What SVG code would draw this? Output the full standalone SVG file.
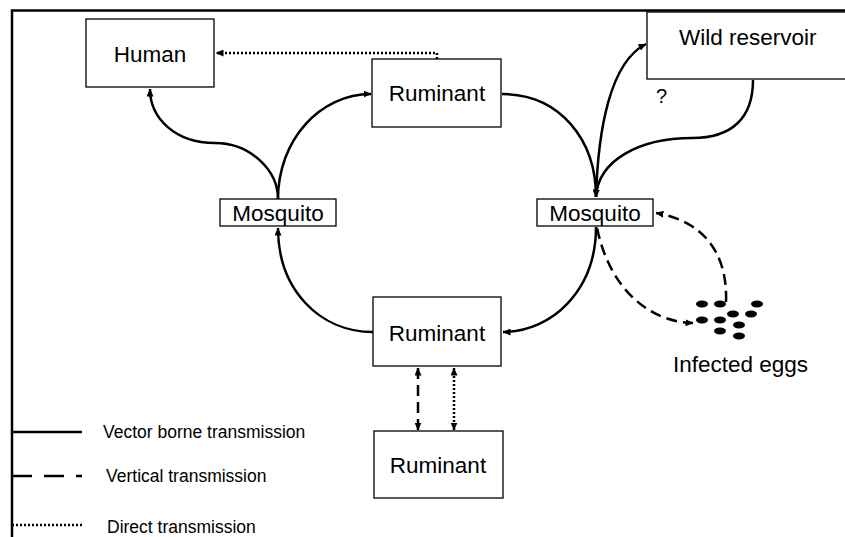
<svg xmlns="http://www.w3.org/2000/svg" width="845" height="537" viewBox="0 0 845 537">
<style>
.box{fill:#fff;stroke:#000;stroke-width:1.3}
.lbl{font-family:"Liberation Sans",Arial,sans-serif;font-size:22.5px;fill:#000}
.leg{font-family:"Liberation Sans",Arial,sans-serif;font-size:17.5px;fill:#000}
.c{fill:none;stroke:#000;stroke-width:2.5}
.dash{stroke-dasharray:11 6}
.dot{stroke-dasharray:2 2;stroke-width:2.5}
</style>
<defs>
<marker id="ah" viewBox="0 0 8 7" refX="7.5" refY="3.5" markerWidth="8" markerHeight="7" markerUnits="userSpaceOnUse" orient="auto-start-reverse">
<path d="M0,0 L8,3.5 L0,7 z" fill="#000"/>
</marker>
</defs>
<rect width="845" height="537" fill="#fff"/>
<g id="frame">
<path d="M12,537 L12,10.5 L845,10.5" fill="none" stroke="#000" stroke-width="2.5"/>
</g>
<g id="connectors">
<path class="c dot" d="M437,59 L437,53 L216,53" marker-end="url(#ah)"/>
<path class="c" d="M278,199 C278,170 250,143 215,143 C175,143 150,118 150,89" marker-end="url(#ah)"/>
<path class="c" d="M278,199 C278,140 320,94 371,94" marker-end="url(#ah)"/>
<path class="c" d="M502,94 C560,94 596,140 596,197" marker-end="url(#ah)"/>
<path class="c" d="M596,197 C598,130 610,62 646,44" marker-end="url(#ah)"/>
<path class="c" d="M753,80 C753,118 732,138 692,138 C640,138 598,160 596,197" marker-end="url(#ah)"/>
<path class="c" d="M596,227 C596,290 552,332 503,332" marker-end="url(#ah)"/>
<path class="c" d="M373,332 C320,332 278,290 278,228" marker-end="url(#ah)"/>
<path class="c dash" d="M597,228 C610,290 650,322 693,323" marker-end="url(#ah)"/>
<path class="c dash" d="M726,302 C728,250 700,220 656,213" marker-end="url(#ah)"/>
<path class="c dash" d="M418,368 L418,430" marker-start="url(#ah)" marker-end="url(#ah)"/>
<path class="c dot" d="M454,368 L454,430" marker-start="url(#ah)" marker-end="url(#ah)"/>
</g>
<g id="human">
<rect class="box" x="86" y="19" width="128" height="68"/>
<text class="lbl" x="150" y="62" text-anchor="middle">Human</text>
</g>
<g id="ruminant-top">
<rect class="box" x="372" y="59" width="129" height="68"/>
<text class="lbl" x="437" y="101" text-anchor="middle">Ruminant</text>
</g>
<g id="wild-reservoir">
<rect class="box" x="647" y="12" width="210" height="67"/>
<text class="lbl" x="679" y="45">Wild reservoir</text>
</g>
<g id="question">
<text class="lbl" x="656" y="103" style="font-size:20px">?</text>
</g>
<g id="mosquito-left">
<rect class="box" x="220" y="199" width="116" height="27"/>
<text class="lbl" x="278" y="221" text-anchor="middle">Mosquito</text>
</g>
<g id="mosquito-right">
<rect class="box" x="537" y="199" width="116" height="27"/>
<text class="lbl" x="595" y="221" text-anchor="middle">Mosquito</text>
</g>
<g id="ruminant-middle">
<rect class="box" x="373" y="297" width="128" height="69"/>
<text class="lbl" x="437" y="341" text-anchor="middle">Ruminant</text>
</g>
<g id="ruminant-bottom">
<rect class="box" x="374" y="431" width="129" height="67"/>
<text class="lbl" x="438" y="473" text-anchor="middle">Ruminant</text>
</g>
<g id="infected-eggs">
<g fill="#000">
<ellipse cx="702" cy="304" rx="6" ry="3.4"/>
<ellipse cx="720" cy="304" rx="6" ry="3.4"/>
<ellipse cx="757" cy="304" rx="6" ry="3.4"/>
<ellipse cx="702" cy="320" rx="6" ry="3.4"/>
<ellipse cx="720" cy="320" rx="6" ry="3.4"/>
<ellipse cx="733" cy="314" rx="6" ry="3.4"/>
<ellipse cx="751" cy="314" rx="6" ry="3.4"/>
<ellipse cx="739" cy="325" rx="6" ry="3.4"/>
<ellipse cx="720" cy="331" rx="6" ry="3.4"/>
<ellipse cx="739" cy="336" rx="6" ry="3.4"/>
</g>
<text class="lbl" x="673" y="372">Infected eggs</text>
</g>
<g id="legend">
<line x1="12" y1="432" x2="82" y2="432" stroke="#000" stroke-width="2.5"/>
<text class="leg" x="103" y="438">Vector borne transmission</text>
<line x1="12" y1="476" x2="82" y2="476" stroke="#000" stroke-width="2.5" stroke-dasharray="20 12"/>
<text class="leg" x="106" y="482">Vertical transmission</text>
<line x1="12" y1="525" x2="82" y2="525" stroke="#000" stroke-width="2.5" stroke-dasharray="2 2"/>
<text class="leg" x="107" y="533">Direct transmission</text>
</g>
</svg>
